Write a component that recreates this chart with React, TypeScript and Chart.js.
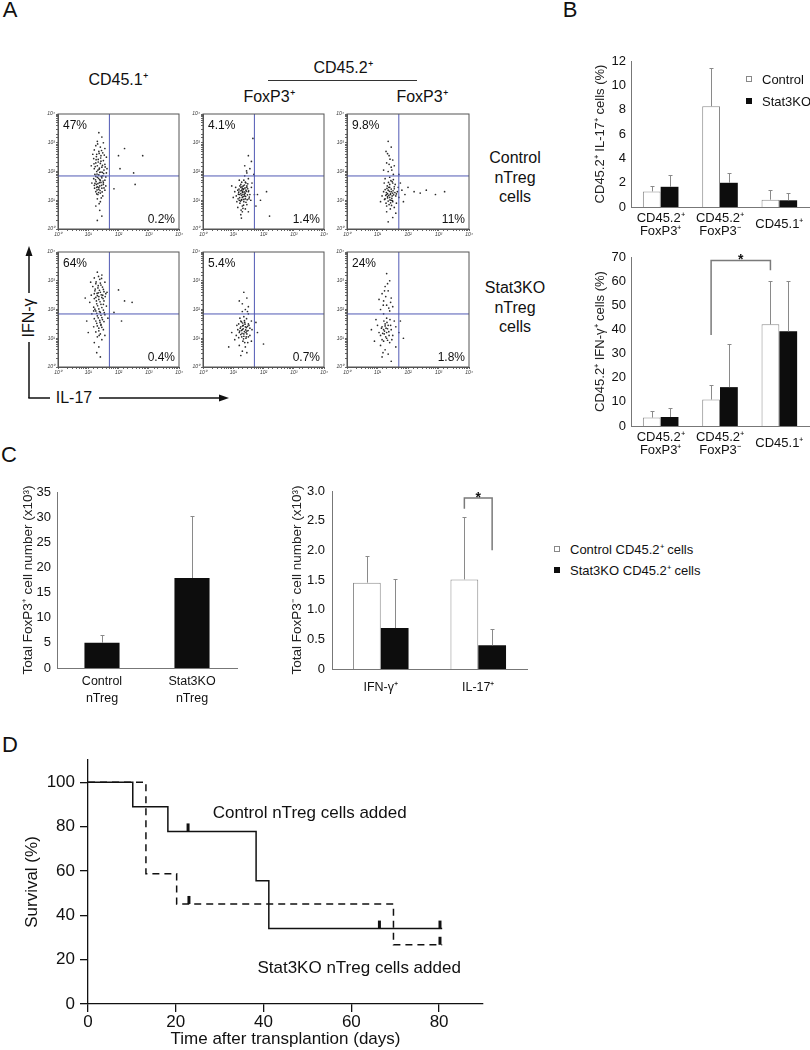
import React, { useEffect, useRef } from 'react';
import { Chart, registerables } from 'chart.js';

Chart.register(...registerables);

const FONT = '"Liberation Sans", Arial, Helvetica, sans-serif';
Chart.defaults.font.family = FONT;
Chart.defaults.color = '#111';

// ---------------- Panel A (flow cytometry) ----------------
const A_TICK_LABELS = ['10⁰', '10¹', '10²', '10³', '10⁴'];
const A_GATE_IL17 = 50;
const A_GATE_IFNG = 70;
const A_PCT_UPPER_LEFT = ['47%', '4.1%', '9.8%', '64%', '5.4%', '24%'];
const A_PCT_LOWER_RIGHT = ['0.2%', '1.4%', '11%', '0.4%', '0.7%', '1.8%'];
// events as [log10 IL-17, log10 IFN-γ]
const A_CTRL_CD451 = [
  [1.35, 3.35], [1.45, 3.2], [1.3, 3.05], [1.5, 3.0], [1.25, 2.9], [1.4, 2.85], [1.55, 2.8], [1.2, 2.75],
  [1.35, 2.7], [1.48, 2.65], [1.28, 2.6], [1.42, 2.55], [1.6, 2.5], [1.18, 2.45], [1.33, 2.42], [1.5, 2.38],
  [1.25, 2.3], [1.4, 2.28], [1.55, 2.25], [1.3, 2.2], [1.45, 2.15], [1.2, 2.1], [1.36, 2.08], [1.52, 2.05],
  [1.28, 2.0], [1.42, 1.98], [1.6, 1.95], [1.22, 1.9], [1.35, 1.88], [1.48, 1.85], [1.3, 1.8], [1.45, 1.78],
  [1.18, 1.75], [1.38, 1.72], [1.55, 1.7], [1.26, 1.65], [1.42, 1.62], [1.32, 1.58], [1.5, 1.55], [1.2, 1.52],
  [1.38, 1.5], [1.28, 1.45], [1.45, 1.42], [1.35, 1.38], [1.55, 1.35], [1.25, 1.3], [1.4, 1.25], [1.32, 1.2],
  [1.48, 1.15], [1.3, 1.05], [1.4, 0.95], [1.25, 0.8], [1.38, 0.65], [1.45, 0.45], [1.3, 0.3], [1.15, 2.6],
  [1.62, 2.1], [1.12, 1.6], [1.58, 1.5], [1.1, 2.2], [2.2, 2.8], [2.0, 2.55], [2.8, 2.55], [2.05, 2.1],
  [2.5, 1.95], [2.55, 1.55], [1.85, 1.4],
  [1.27, 2.52], [1.41, 2.47], [1.33, 2.33], [1.47, 2.21], [1.23, 2.17], [1.37, 2.12], [1.51, 1.93], [1.29, 1.91],
  [1.43, 1.83], [1.34, 1.76], [1.24, 1.71], [1.49, 1.67], [1.37, 1.61], [1.27, 1.55], [1.44, 1.52], [1.31, 1.47],
  [1.52, 1.43], [1.21, 1.42], [1.39, 1.34], [1.29, 1.36], [1.46, 1.29], [1.34, 1.27], [1.42, 2.36], [1.26, 2.41],
  [1.53, 2.57], [1.36, 2.63], [1.31, 2.96], [1.44, 2.73], [1.19, 2.27], [1.56, 2.16], [1.38, 1.97], [1.25, 1.83],
  [1.58, 1.81], [1.32, 2.05], [1.47, 1.97], [1.4, 1.69], [1.22, 1.59], [1.35, 1.44], [1.5, 1.61], [1.28, 1.22],
  [1.43, 1.08], [1.36, 0.88],
];
const A_CTRL_FOXP3_POS = [
  [1.3, 1.3], [1.2, 1.2], [1.4, 1.25], [1.35, 1.4], [1.25, 1.45], [1.45, 1.5], [1.15, 1.35], [1.5, 1.3],
  [1.3, 1.1], [1.4, 1.05], [1.2, 1.0], [1.35, 0.95], [1.25, 1.55], [1.42, 1.6], [1.1, 1.15], [1.55, 1.2],
  [1.32, 1.2], [1.28, 1.35], [1.38, 1.15], [1.18, 1.28], [1.48, 1.4], [1.22, 0.9], [1.45, 0.85], [1.3, 0.8],
  [1.12, 0.95], [1.58, 1.0], [1.6, 1.45], [1.05, 1.3], [1.35, 1.7], [1.5, 1.75], [1.2, 1.7], [1.62, 1.6],
  [1.0, 1.1], [1.15, 0.75], [1.4, 0.7], [1.3, 0.6], [1.5, 0.6], [1.25, 0.5], [1.45, 1.95], [1.55, 2.1],
  [1.38, 2.2], [1.6, 2.35], [1.5, 2.55], [1.65, 3.15], [1.68, 1.9], [1.7, 1.2], [0.95, 1.5], [1.28, 1.02],
  [1.42, 1.35], [1.33, 1.5], [1.52, 1.05], [1.08, 1.45], [1.8, 1.2], [1.9, 1.0], [2.2, 0.45], [2.1, 1.3],
  [1.75, 0.8], [1.27, 0.38],
  [1.31, 1.27], [1.23, 1.33], [1.37, 1.21], [1.27, 1.17], [1.43, 1.31], [1.33, 1.37], [1.21, 1.09], [1.39, 1.43],
  [1.29, 1.47], [1.47, 1.19], [1.35, 1.03], [1.25, 1.23], [1.41, 1.13], [1.17, 1.21], [1.33, 1.13], [1.45, 1.45],
  [1.27, 1.01], [1.37, 1.53], [1.19, 1.39], [1.51, 1.33], [1.3, 1.41], [1.36, 1.29], [1.24, 0.97], [1.42, 0.93],
  [1.34, 0.83], [1.48, 1.57], [1.16, 1.05], [1.4, 1.63], [1.28, 1.63], [1.53, 1.11], [1.22, 1.5], [1.46, 1.02],
  [1.32, 0.72], [1.38, 1.85], [1.44, 2.02], [1.26, 0.66],
];
const A_CTRL_FOXP3_NEG = [
  [1.4, 1.1], [1.3, 1.2], [1.5, 1.25], [1.45, 1.0], [1.35, 1.35], [1.55, 1.4], [1.25, 1.05], [1.4, 1.45],
  [1.6, 1.15], [1.2, 1.3], [1.5, 0.95], [1.38, 0.85], [1.28, 0.9], [1.45, 1.3], [1.32, 1.5], [1.58, 1.55],
  [1.22, 1.6], [1.48, 1.65], [1.65, 1.3], [1.7, 1.1], [1.15, 1.15], [1.42, 0.7], [1.55, 0.75], [1.3, 0.6],
  [1.5, 0.4], [1.35, 0.25], [1.62, 0.9], [1.25, 1.75], [1.4, 1.8], [1.52, 1.9], [1.35, 2.0], [1.45, 2.15],
  [1.3, 2.3], [1.5, 2.4], [1.38, 2.55], [1.28, 2.7], [1.45, 2.85], [1.35, 3.05], [1.55, 2.2], [1.2, 2.05],
  [1.8, 1.35], [1.9, 1.2], [2.0, 1.45], [2.2, 1.3], [2.4, 1.25], [2.6, 1.35], [2.9, 1.2], [3.2, 1.3],
  [1.75, 1.6], [1.85, 0.95], [1.1, 0.95], [1.42, 1.2], [1.33, 1.08], [1.48, 1.15], [1.6, 0.55], [1.7, 1.9],
  [1.37, 1.17], [1.43, 1.23], [1.33, 1.13], [1.47, 1.07], [1.39, 1.31], [1.29, 1.27], [1.53, 1.19], [1.41, 1.01],
  [1.35, 0.97], [1.45, 1.39], [1.31, 1.41], [1.51, 1.33], [1.27, 1.17], [1.43, 0.91], [1.37, 1.45], [1.49, 0.99],
  [1.33, 1.23], [1.57, 1.27], [1.23, 1.03], [1.4, 1.55], [1.3, 0.8], [1.46, 0.82], [1.55, 1.47], [1.36, 1.62],
  [1.44, 1.68], [1.25, 1.37], [1.62, 1.22], [1.5, 1.6], [1.41, 2.43], [1.33, 2.62], [1.47, 2.05], [1.38, 2.25],
  [1.52, 1.72], [1.68, 1.45],
];
const A_KO_CD451 = [
  [1.3, 3.3], [1.45, 3.2], [1.2, 3.1], [1.38, 3.05], [1.55, 2.95], [1.25, 2.9], [1.42, 2.85], [1.15, 2.8],
  [1.32, 2.75], [1.5, 2.7], [1.22, 2.65], [1.4, 2.6], [1.58, 2.55], [1.1, 2.5], [1.3, 2.48], [1.45, 2.42],
  [1.2, 2.38], [1.35, 2.35], [1.52, 2.3], [1.05, 2.25], [1.28, 2.2], [1.42, 2.18], [1.6, 2.12], [1.18, 2.08],
  [1.35, 2.02], [1.5, 1.98], [1.25, 1.95], [1.4, 1.9], [1.12, 1.85], [1.55, 1.82], [1.3, 1.78], [1.45, 1.72],
  [1.2, 1.68], [1.38, 1.62], [1.52, 1.58], [1.28, 1.52], [1.42, 1.45], [1.18, 1.4], [1.35, 1.35], [1.5, 1.3],
  [1.25, 1.22], [1.4, 1.15], [1.3, 1.05], [1.45, 0.95], [1.2, 0.85], [1.35, 0.7], [1.28, 0.5], [1.4, 0.35],
  [0.95, 1.6], [0.9, 2.4], [1.65, 1.7], [1.62, 2.6], [1.0, 1.2], [1.55, 1.1], [1.08, 2.95], [1.48, 2.5],
  [1.33, 2.58], [2.0, 2.68], [2.2, 2.3], [2.45, 2.25], [2.1, 1.6], [1.85, 1.9],
  [1.26, 2.96], [1.4, 2.92], [1.33, 2.83], [1.47, 2.78], [1.23, 2.71], [1.37, 2.67], [1.52, 2.62], [1.29, 2.56],
  [1.43, 2.51], [1.35, 2.45], [1.25, 2.42], [1.49, 2.38], [1.39, 2.27], [1.31, 2.13], [1.45, 2.07], [1.22, 2.01],
  [1.37, 1.93], [1.53, 1.89], [1.28, 1.87], [1.42, 1.8], [1.33, 1.71], [1.47, 1.65], [1.25, 1.6], [1.39, 1.55],
  [1.3, 1.43], [1.45, 1.38], [1.35, 1.26], [1.2, 2.55], [1.56, 2.45], [1.44, 3.08], [1.34, 3.15], [1.18, 1.95],
  [1.5, 2.18], [1.27, 2.3], [1.42, 1.48], [1.36, 1.1],
];
const A_KO_FOXP3_POS = [
  [1.3, 1.3], [1.4, 1.4], [1.2, 1.2], [1.35, 1.15], [1.45, 1.25], [1.25, 1.4], [1.5, 1.5], [1.15, 1.3],
  [1.38, 1.55], [1.28, 1.05], [1.42, 1.0], [1.55, 1.35], [1.1, 1.1], [1.32, 0.9], [1.48, 0.85], [1.2, 0.75],
  [1.4, 0.7], [1.25, 1.6], [1.6, 1.6], [1.35, 1.75], [1.5, 1.85], [1.18, 1.5], [1.05, 0.95], [0.95, 1.2],
  [0.85, 0.7], [1.3, 0.55], [1.45, 0.5], [1.55, 1.1], [1.62, 1.3], [1.22, 1.7], [1.4, 2.0], [1.3, 2.2],
  [1.5, 2.1], [1.2, 2.3], [1.45, 2.4], [1.35, 2.6], [1.25, 0.4], [1.6, 0.9], [1.12, 1.45], [1.42, 1.2],
  [1.33, 1.45], [1.5, 1.05], [1.8, 1.2], [2.0, 0.8], [1.75, 1.55],
  [1.33, 1.33], [1.37, 1.23], [1.27, 1.27], [1.43, 1.37], [1.31, 1.43], [1.39, 1.49], [1.23, 1.35], [1.47, 1.41],
  [1.29, 1.17], [1.35, 1.07], [1.45, 1.15], [1.41, 1.29], [1.25, 1.13], [1.37, 1.61], [1.49, 1.27], [1.31, 1.53],
  [1.21, 1.25], [1.43, 1.05], [1.34, 0.98], [1.27, 1.57], [1.52, 1.45], [1.38, 0.85], [1.44, 1.68], [1.18, 1.02],
  [1.3, 1.93], [1.47, 1.93],
];
const A_KO_FOXP3_NEG = [
  [1.2, 1.3], [1.3, 1.2], [1.1, 1.1], [1.35, 1.45], [1.25, 1.5], [1.15, 1.4], [1.45, 1.3], [1.05, 1.2],
  [1.3, 1.0], [1.2, 0.9], [1.4, 0.85], [1.1, 0.75], [1.5, 1.1], [1.0, 1.45], [1.25, 0.6], [1.35, 0.45],
  [1.15, 0.35], [1.45, 0.2], [0.9, 0.9], [0.8, 1.3], [1.55, 1.6], [1.6, 0.7], [1.3, 1.7], [1.2, 1.85],
  [1.4, 1.95], [1.1, 2.0], [1.3, 2.15], [1.2, 2.3], [1.45, 2.4], [1.15, 2.55], [1.35, 2.65], [1.25, 2.8],
  [1.4, 3.0], [1.3, 3.25], [1.5, 2.1], [1.05, 2.35], [1.6, 1.4], [1.7, 1.2], [1.75, 1.6], [0.95, 1.65],
  [1.22, 1.15], [1.38, 1.1], [1.28, 1.35], [1.85, 1.0], [1.18, 0.5],
  [1.23, 1.25], [1.33, 1.33], [1.17, 1.17], [1.27, 1.05], [1.37, 1.23], [1.13, 1.35], [1.25, 1.43], [1.43, 1.45],
  [1.33, 0.93], [1.21, 1.6], [1.31, 1.55], [1.41, 1.65], [1.15, 0.95], [1.47, 0.95], [1.27, 2.45], [1.37, 2.05],
  [1.23, 2.65], [1.33, 2.9], [1.43, 2.25], [1.19, 2.15],
];
const A_EVENTS = [A_CTRL_CD451, A_CTRL_FOXP3_POS, A_CTRL_FOXP3_NEG, A_KO_CD451, A_KO_FOXP3_POS, A_KO_FOXP3_NEG];

// ---------------- Panel B ----------------
const B_CATEGORIES = [['CD45.2⁺', 'FoxP3⁺'], ['CD45.2⁺', 'FoxP3⁻'], 'CD45.1⁺'];
const B_IL17_CONTROL = [1.28, 8.28, 0.6];
const B_IL17_CONTROL_ERR = [1.69, 11.44, 1.42];
const B_IL17_STAT3KO = [1.66, 1.99, 0.55];
const B_IL17_STAT3KO_ERR = [2.64, 2.78, 1.17];
const B_IFNG_CONTROL = [3.47, 10.95, 42.1];
const B_IFNG_CONTROL_ERR = [6.4, 16.9, 59.9];
const B_IFNG_STAT3KO = [3.74, 16.1, 39.2];
const B_IFNG_STAT3KO_ERR = [7.5, 33.8, 59.9];
// bracket: [dataset, category, leg bottom] x2, top value
const B_IFNG_BRACKET = { a: [0, 1, 37.7], b: [0, 2, 64.5], top: 68.6, label: '*' };

// ---------------- Panel C ----------------
const C_LEFT_CATEGORIES = [['Control', 'nTreg'], ['Stat3KO', 'nTreg']];
const C_FOXP3POS = [5.0, 17.9];
const C_FOXP3POS_ERR = [6.5, 30.3];
const C_RIGHT_CATEGORIES = ['IFN-γ⁺', 'IL-17⁺'];
const C_CONTROL = [1.455, 1.51];
const C_CONTROL_ERR = [1.9, 2.57];
const C_STAT3KO = [0.69, 0.4];
const C_STAT3KO_ERR = [1.51, 0.67];
const C_BRACKET = { a: [0, 1, 2.7], b: [1, 1, 2.0], top: 2.88, label: '*' };

// ---------------- Panel D ----------------
const D_CONTROL_DAYS = [0, 10.2, 18.2, 38.3, 41.2, 80.7];
const D_CONTROL_SURV = [100, 88.9, 77.8, 55.6, 34, 34];
const D_STAT3KO_DAYS = [0, 13.2, 20.2, 69.6, 80.7];
const D_STAT3KO_SURV = [100, 58.7, 45.1, 26.7, 26.7];
const D_CENSORED = [[22.8, 77.8], [66.4, 34], [80.2, 34], [23, 45.1], [80.2, 26.7]];
const D_CURVE_LABELS = [
  { text: 'Control nTreg cells added', day: 28.4, surv: 86.1 },
  { text: 'Stat3KO nTreg cells added', day: 38.6, surv: 16.2 },
];

// ---------------- helpers ----------------
const framePlugin = {
  id: 'frame',
  afterDraw(chart: any) {
    const { ctx, chartArea: a } = chart;
    ctx.save();
    ctx.strokeStyle = '#555';
    ctx.lineWidth = 1;
    ctx.strokeRect(a.left, a.top, a.right - a.left, a.bottom - a.top);
    ctx.restore();
  },
};

function quadLabels(ul: string, lr: string) {
  return {
    id: 'quadLabels',
    afterDraw(chart: any) {
      const { ctx, chartArea: a } = chart;
      ctx.save();
      ctx.font = `12px ${FONT}`;
      ctx.fillStyle = '#111';
      ctx.textBaseline = 'alphabetic';
      ctx.textAlign = 'left';
      ctx.fillText(ul, a.left + 5, a.top + 15);
      ctx.textAlign = 'right';
      ctx.fillText(lr, a.right - 4, a.bottom - 6);
      ctx.restore();
    },
  };
}

function errorBars(errs: (number[] | null)[]) {
  return {
    id: 'errorBars',
    afterDatasetsDraw(chart: any) {
      const { ctx } = chart;
      const y = chart.scales.y;
      ctx.save();
      ctx.strokeStyle = '#8a8a8a';
      ctx.lineWidth = 1;
      errs.forEach((arr, di) => {
        if (!arr) return;
        const meta = chart.getDatasetMeta(di);
        meta.data.forEach((bar: any, i: number) => {
          const top = Math.round(y.getPixelForValue(arr[i])) + 0.5;
          const x = Math.round(bar.x) + 0.5;
          ctx.beginPath();
          ctx.moveTo(x, bar.y);
          ctx.lineTo(x, top);
          ctx.moveTo(x - 2, top);
          ctx.lineTo(x + 2, top);
          ctx.stroke();
        });
      });
      ctx.restore();
    },
  };
}

function bracket(b: any) {
  return {
    id: 'bracket',
    afterDatasetsDraw(chart: any) {
      const { ctx } = chart;
      const y = chart.scales.y;
      const xa = chart.getDatasetMeta(b.a[0]).data[b.a[1]].x;
      const xb = chart.getDatasetMeta(b.b[0]).data[b.b[1]].x;
      const ya = y.getPixelForValue(b.a[2]);
      const yb = y.getPixelForValue(b.b[2]);
      const yt = y.getPixelForValue(b.top);
      ctx.save();
      ctx.strokeStyle = '#7a7a7a';
      ctx.lineWidth = 1.5;
      ctx.beginPath();
      ctx.moveTo(xa, ya);
      ctx.lineTo(xa, yt);
      ctx.lineTo(xb, yt);
      ctx.lineTo(xb, yb);
      ctx.stroke();
      ctx.fillStyle = '#111';
      ctx.font = `bold 14px ${FONT}`;
      ctx.textAlign = 'center';
      ctx.textBaseline = 'alphabetic';
      ctx.fillText(b.label, (xa + xb) / 2, yt + 4);
      ctx.restore();
    },
  };
}

function scatterConfig(events: number[][], ul: string, lr: string) {
  const tickLabel = (v: number) => {
    const l = Math.log10(v);
    const r = Math.round(l);
    return Math.abs(l - r) < 1e-6 ? A_TICK_LABELS[r] : '';
  };
  const axisBase = {
    type: 'logarithmic',
    min: 1,
    max: 10000,
    grid: { display: true, drawOnChartArea: false, drawTicks: true, tickLength: 2, color: '#666' },
    border: { display: true, color: '#555' },
    ticks: {
      autoSkip: false,
      maxRotation: 0,
      minRotation: 0,
      padding: 1,
      color: '#333',
      font: { size: 5, style: 'italic' },
      callback: tickLabel,
    },
  };
  return {
    type: 'scatter',
    data: {
      datasets: [
        {
          type: 'line',
          data: [{ x: A_GATE_IL17, y: 1 }, { x: A_GATE_IL17, y: 10000 }],
          borderColor: '#5059b5',
          borderWidth: 1,
          pointRadius: 0,
        },
        {
          type: 'line',
          data: [{ x: 1, y: A_GATE_IFNG }, { x: 10000, y: A_GATE_IFNG }],
          borderColor: '#5059b5',
          borderWidth: 1,
          pointRadius: 0,
        },
        {
          data: events.map(([a, b]) => ({ x: Math.pow(10, a), y: Math.pow(10, b) })),
          pointRadius: 0.85,
          backgroundColor: 'rgba(20,20,20,0.9)',
          borderWidth: 0,
        },
      ],
    },
    options: {
      animation: false,
      responsive: false,
      layout: { padding: { top: 6, right: 8, left: 0, bottom: 0 } },
      plugins: { legend: { display: false }, tooltip: { enabled: false } },
      scales: {
        x: { ...axisBase, afterFit: (s: any) => { s.height = 12; } },
        y: { ...axisBase, afterFit: (s: any) => { s.width = 18; } },
      },
    },
    plugins: [framePlugin, quadLabels(ul, lr)],
  };
}

function barConfig(opts: any) {
  return {
    type: 'bar',
    data: { labels: opts.labels, datasets: opts.datasets },
    options: {
      animation: false,
      responsive: false,
      layout: { padding: opts.padding },
      plugins: { legend: { display: false }, tooltip: { enabled: false } },
      datasets: { bar: { categoryPercentage: opts.catPct, barPercentage: 1 } },
      scales: {
        x: {
          grid: { display: false, drawTicks: false },
          border: { display: true, color: '#777', width: 1 },
          ticks: {
            autoSkip: false,
            maxRotation: 0,
            minRotation: 0,
            padding: opts.xPad,
            crossAlign: opts.crossAlign || 'near',
            color: '#111',
            font: { size: opts.xFont, lineHeight: opts.xLine },
          },
          afterFit: (s: any) => { s.height = opts.xHeight; },
        },
        y: {
          min: 0,
          max: opts.yMax,
          grid: { display: false, drawTicks: false },
          border: { display: true, color: '#777', width: 1 },
          ticks: {
            stepSize: opts.yStep,
            padding: opts.yPad,
            color: '#111',
            font: { size: 13 },
            callback: opts.yFmt,
          },
          title: {
            display: true,
            text: opts.yTitle,
            color: '#222',
            font: { size: opts.titleSize },
            padding: { top: opts.titlePad, bottom: 0 },
          },
          afterFit: (s: any) => { s.width = opts.yWidth; },
        },
      },
    },
    plugins: opts.plugins,
  };
}

const CONTROL_STYLE = { backgroundColor: '#ffffff', borderColor: '#8a8a8a', borderWidth: 1 };
const KO_STYLE = { backgroundColor: '#0d0d0d', borderColor: '#0d0d0d', borderWidth: 0 };

function survivalConfig() {
  const marks = {
    id: 'survivalMarks',
    afterDatasetsDraw(chart: any) {
      const { ctx } = chart;
      const { x, y } = chart.scales;
      ctx.save();
      ctx.strokeStyle = '#111';
      ctx.lineWidth = 3;
      D_CENSORED.forEach(([t, s]) => {
        const px = x.getPixelForValue(t);
        const py = y.getPixelForValue(s);
        ctx.beginPath();
        ctx.moveTo(px, py);
        ctx.lineTo(px, py - 8);
        ctx.stroke();
      });
      ctx.fillStyle = '#111';
      ctx.font = `17px ${FONT}`;
      ctx.textAlign = 'left';
      ctx.textBaseline = 'middle';
      D_CURVE_LABELS.forEach((l) => {
        ctx.fillText(l.text, x.getPixelForValue(l.day), y.getPixelForValue(l.surv));
      });
      ctx.restore();
    },
  };
  const axis = (max: number) => ({
    type: 'linear',
    min: 0,
    max,
    grid: { display: true, drawOnChartArea: false, drawTicks: true, tickLength: 8, color: '#111', lineWidth: 1.3 },
    border: { display: true, color: '#111', width: 1.3 },
  });
  return {
    type: 'line',
    data: {
      datasets: [
        {
          data: D_CONTROL_DAYS.map((d, i) => ({ x: d, y: D_CONTROL_SURV[i] })),
          borderColor: '#111',
          borderWidth: 1.5,
          pointRadius: 0,
          stepped: 'before',
        },
        {
          data: D_STAT3KO_DAYS.map((d, i) => ({ x: d, y: D_STAT3KO_SURV[i] })),
          borderColor: '#111',
          borderWidth: 1.5,
          borderDash: [7, 5],
          pointRadius: 0,
          stepped: 'before',
        },
      ],
    },
    options: {
      animation: false,
      responsive: false,
      layout: { padding: { top: 20, right: 17, left: 0, bottom: 0 } },
      plugins: { legend: { display: false }, tooltip: { enabled: false } },
      scales: {
        x: {
          ...axis(90),
          ticks: { stepSize: 20, includeBounds: false, maxRotation: 0, padding: 0, color: '#111', font: { size: 17 } },
          title: { display: true, text: 'Time after transplantion (days)', color: '#111', font: { size: 17 }, padding: { top: 0, bottom: 0 } },
          afterFit: (s: any) => { s.height = 46; },
        },
        y: {
          ...axis(110),
          ticks: { stepSize: 20, includeBounds: false, padding: 5, color: '#111', font: { size: 17 } },
          title: { display: true, text: 'Survival (%)', color: '#111', font: { size: 17 }, padding: { top: 22, bottom: 0 } },
          afterFit: (s: any) => { s.width = 88; },
        },
      },
    },
    plugins: [marks],
  };
}

function ChartCanvas({ left, top, width, height, make }: any) {
  const ref = useRef<HTMLCanvasElement>(null);
  useEffect(() => {
    const chart = new Chart(ref.current as HTMLCanvasElement, make());
    return () => chart.destroy();
  }, []);
  return (
    <canvas
      ref={ref}
      width={width}
      height={height}
      style={{ position: 'absolute', left, top, width, height }}
    />
  );
}

function T({ x, y, size = 16, children, rotate = 0, bold = false }: any) {
  return (
    <div
      style={{
        position: 'absolute',
        left: x,
        top: y,
        transform: `translate(-50%,-50%) rotate(${rotate}deg)`,
        fontSize: size,
        lineHeight: 1,
        whiteSpace: 'nowrap',
        fontFamily: FONT,
        color: '#111',
        fontWeight: bold ? 'bold' : 'normal',
      }}
    >
      {children}
    </div>
  );
}

function LegendItem({ x, y, filled, text }: any) {
  return (
    <>
      <div
        style={{
          position: 'absolute',
          left: x,
          top: y - 3,
          width: 6,
          height: 6,
          boxSizing: 'border-box',
          background: filled ? '#0d0d0d' : '#fff',
          border: filled ? '1px solid #0d0d0d' : '1px solid #888',
        }}
      />
      <div
        style={{
          position: 'absolute',
          left: x + 16,
          top: y,
          transform: 'translateY(-50%)',
          fontSize: 13,
          lineHeight: 1,
          whiteSpace: 'nowrap',
          fontFamily: FONT,
          color: '#111',
        }}
      >
        {text}
      </div>
    </>
  );
}

const A_BOXES = [
  [58, 114, 179, 229], [203, 114, 324, 229], [347, 114, 469, 229],
  [58, 252, 179, 367], [203, 252, 324, 367], [347, 252, 469, 367],
];

export default function App() {
  return (
    <div
      style={{
        position: 'absolute',
        left: 0,
        top: 0,
        width: 810,
        height: 1050,
        overflow: 'hidden',
        background: '#fff',
        fontFamily: FONT,
      }}
    >
      {/* Panel letters */}
      <T x={10} y={10} size={22}>A</T>
      <T x={570} y={10} size={22}>B</T>
      <T x={9} y={455} size={22}>C</T>
      <T x={10} y={745} size={22}>D</T>

      {/* Panel A headers */}
      <T x={118} y={80} size={16}>CD45.1⁺</T>
      <T x={343} y={68} size={16}>CD45.2⁺</T>
      <T x={269} y={97} size={16}>FoxP3⁺</T>
      <T x={422} y={97} size={16}>FoxP3⁺</T>
      <T x={515} y={158} size={16}>Control</T>
      <T x={515} y={178} size={16}>nTreg</T>
      <T x={515} y={197} size={16}>cells</T>
      <T x={515} y={288} size={16}>Stat3KO</T>
      <T x={515} y={308} size={16}>nTreg</T>
      <T x={515} y={327} size={16}>cells</T>
      <T x={29} y={318} size={16} rotate={-90}>IFN-γ</T>
      <T x={74} y={398} size={16}>IL-17</T>

      <svg
        width={810}
        height={1050}
        style={{ position: 'absolute', left: 0, top: 0, pointerEvents: 'none' }}
      >
        <line x1={268} y1={80.5} x2={417} y2={80.5} stroke="#333" strokeWidth={1} />
        <line x1={29} y1={398} x2={29} y2={342} stroke="#111" strokeWidth={1.5} />
        <line x1={29} y1={293} x2={29} y2={254} stroke="#111" strokeWidth={1.5} />
        <polygon points="29,246 25.5,256 32.5,256" fill="#111" />
        <line x1={28.3} y1={398} x2={50} y2={398} stroke="#111" strokeWidth={1.5} />
        <line x1={99} y1={398} x2={221} y2={398} stroke="#111" strokeWidth={1.5} />
        <polygon points="229,398 219,394.5 219,401.5" fill="#111" />
      </svg>

      {A_BOXES.map((b, i) => (
        <ChartCanvas
          key={i}
          left={b[0] - 18}
          top={b[1] - 6}
          width={b[2] - b[0] + 26}
          height={b[3] - b[1] + 18}
          make={() => scatterConfig(A_EVENTS[i], A_PCT_UPPER_LEFT[i], A_PCT_LOWER_RIGHT[i])}
        />
      ))}

      {/* Panel B */}
      <ChartCanvas
        left={560}
        top={48}
        width={259}
        height={202}
        make={() =>
          barConfig({
            labels: B_CATEGORIES,
            datasets: [
              { label: 'Control', data: B_IL17_CONTROL, ...CONTROL_STYLE },
              { label: 'Stat3KO', data: B_IL17_STAT3KO, ...KO_STYLE },
            ],
            padding: { top: 13, right: 10, left: 0, bottom: 0 },
            catPct: 0.6,
            xPad: 11,
            crossAlign: 'center',
            xFont: 13,
            xLine: 1.0,
            xHeight: 43,
            yMax: 12,
            yStep: 2,
            yPad: 5,
            yTitle: 'CD45.2⁺ IL-17⁺ cells (%)',
            titleSize: 13,
            titlePad: 32.2,
            yWidth: 71,
            plugins: [errorBars([B_IL17_CONTROL_ERR, B_IL17_STAT3KO_ERR])],
          })
        }
      />
      <LegendItem x={746} y={79} filled={false} text="Control" />
      <LegendItem x={746} y={101} filled={true} text="Stat3KO" />

      <ChartCanvas
        left={560}
        top={244}
        width={259}
        height={222}
        make={() =>
          barConfig({
            labels: B_CATEGORIES,
            datasets: [
              { label: 'Control', data: B_IFNG_CONTROL, ...CONTROL_STYLE },
              { label: 'Stat3KO', data: B_IFNG_STAT3KO, ...KO_STYLE },
            ],
            padding: { top: 13, right: 10, left: 0, bottom: 0 },
            catPct: 0.6,
            xPad: 11,
            crossAlign: 'center',
            xFont: 13,
            xLine: 1.0,
            xHeight: 40,
            yMax: 70,
            yStep: 10,
            yPad: 5,
            yTitle: 'CD45.2⁺ IFN-γ⁺ cells (%)',
            titleSize: 13,
            titlePad: 32.2,
            yWidth: 71,
            plugins: [errorBars([B_IFNG_CONTROL_ERR, B_IFNG_STAT3KO_ERR]), bracket(B_IFNG_BRACKET)],
          })
        }
      />

      {/* Panel C */}
      <ChartCanvas
        left={0}
        top={470}
        width={247}
        height={240}
        make={() =>
          barConfig({
            labels: C_LEFT_CATEGORIES,
            datasets: [{ label: 'FoxP3+', data: C_FOXP3POS, ...KO_STYLE }],
            padding: { top: 22, right: 10, left: 0, bottom: 0 },
            catPct: 0.39,
            xPad: 5.5,
            xFont: 12.5,
            xLine: 1.36,
            xHeight: 42,
            yMax: 35,
            yStep: 5,
            yPad: 6,
            yTitle: 'Total FoxP3⁺ cell number (x10³)',
            titleSize: 13.5,
            titlePad: 19.9,
            yWidth: 57,
            plugins: [errorBars([C_FOXP3POS_ERR])],
          })
        }
      />
      <ChartCanvas
        left={270}
        top={470}
        width={267}
        height={240}
        make={() =>
          barConfig({
            labels: C_RIGHT_CATEGORIES,
            datasets: [
              { label: 'Control CD45.2⁺ cells', data: C_CONTROL, ...CONTROL_STYLE },
              { label: 'Stat3KO CD45.2⁺ cells', data: C_STAT3KO, ...KO_STYLE },
            ],
            padding: { top: 21, right: 10, left: 0, bottom: 0 },
            catPct: 0.57,
            xPad: 10.5,
            xFont: 12.5,
            xLine: 1.36,
            xHeight: 41,
            yMax: 3,
            yStep: 0.5,
            yPad: 7,
            yFmt: (v: number) => (v === 0 ? '0' : v.toFixed(1)),
            yTitle: 'Total FoxP3⁻ cell number (x10³)',
            titleSize: 13.5,
            titlePad: 18.9,
            yWidth: 62,
            plugins: [errorBars([C_CONTROL_ERR, C_STAT3KO_ERR]), bracket(C_BRACKET)],
          })
        }
      />
      <LegendItem x={554} y={549} filled={false} text="Control CD45.2⁺ cells" />
      <LegendItem x={554} y={570} filled={true} text="Stat3KO CD45.2⁺ cells" />

      {/* Panel D */}
      <ChartCanvas left={0} top={740} width={500} height={310} make={survivalConfig} />
    </div>
  );
}
